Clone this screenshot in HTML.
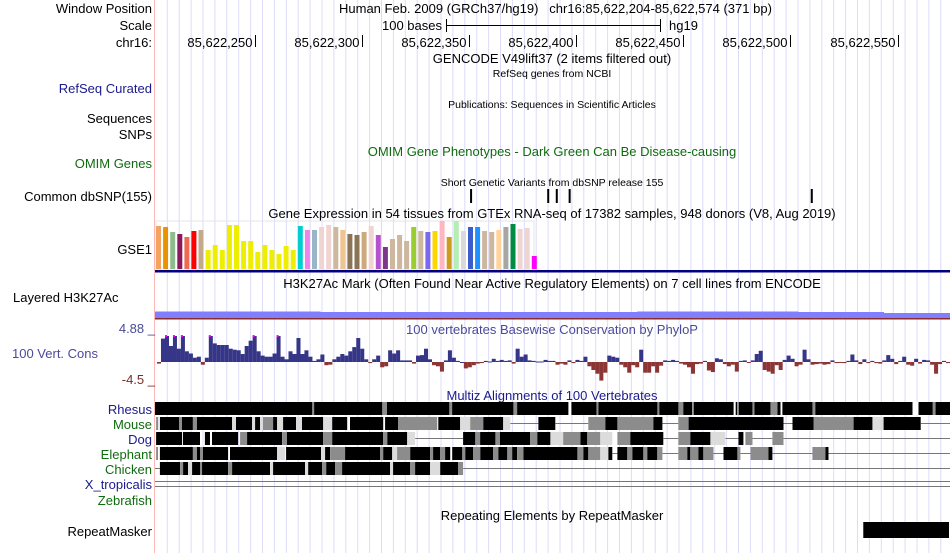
<!DOCTYPE html>
<html><head><meta charset="utf-8">
<style>
html,body{margin:0;padding:0;background:#fff;}
svg{display:block;font-family:"Liberation Sans",Arial,sans-serif;}
</style></head>
<body>
<svg id="chart" width="950" height="553" viewBox="0 0 950 553" xmlns="http://www.w3.org/2000/svg">
  <g id="grid"></g>
  <line x1="154.5" y1="0" x2="154.5" y2="553" stroke="#ffb8b8" stroke-width="1"/>

  <g font-size="13" fill="#000">
    <text x="152" y="13" text-anchor="end">Window Position</text>
    <text x="339" y="13">Human Feb. 2009 (GRCh37/hg19)&#160;&#160;&#160;chr16:85,622,204-85,622,574 (371 bp)</text>
    <text x="152" y="30" text-anchor="end">Scale</text>
    <text x="442" y="30" text-anchor="end">100 bases</text>
    <g stroke="#000" stroke-width="1">
      <line x1="446" y1="25.5" x2="660" y2="25.5"/>
      <line x1="446.5" y1="19" x2="446.5" y2="32"/>
      <line x1="660.5" y1="19" x2="660.5" y2="32"/>
    </g>
    <text x="669" y="30">hg19</text>
    <text x="152" y="47" text-anchor="end">chr16:</text>
    <g id="ticks"></g>
    <text x="552" y="63" text-anchor="middle">GENCODE V49lift37 (2 items filtered out)</text>
    <text x="552" y="77" text-anchor="middle" font-size="10.5">RefSeq genes from NCBI</text>
    <text x="152" y="93" text-anchor="end" fill="#1a1a8c">RefSeq Curated</text>
    <text x="552" y="108" text-anchor="middle" font-size="10.5">Publications: Sequences in Scientific Articles</text>
    <text x="152" y="123" text-anchor="end">Sequences</text>
    <text x="152" y="139" text-anchor="end">SNPs</text>
    <text x="552" y="156" text-anchor="middle" fill="#0f6b0f">OMIM Gene Phenotypes - Dark Green Can Be Disease-causing</text>
    <text x="152" y="168" text-anchor="end" fill="#0f6b0f">OMIM Genes</text>
    <text x="552" y="186" text-anchor="middle" font-size="10.5">Short Genetic Variants from dbSNP release 155</text>
    <text x="152" y="201" text-anchor="end">Common dbSNP(155)</text>
    <g id="snps"></g>
    <text x="552" y="218" text-anchor="middle">Gene Expression in 54 tissues from GTEx RNA-seq of 17382 samples, 948 donors (V8, Aug 2019)</text>
    <text x="152" y="254" text-anchor="end">GSE1</text>
  </g>

  <rect x="156" y="221" width="378" height="49" fill="none" stroke="#e4e4e4"/>
  <g id="gtex"></g>
  <rect x="155" y="270" width="795" height="2.5" fill="#000080"/>

  <g font-size="13">
    <text x="552" y="288" text-anchor="middle">H3K27Ac Mark (Often Found Near Active Regulatory Elements) on 7 cell lines from ENCODE</text>
    <text x="13" y="302">Layered H3K27Ac</text>
  </g>
  <g id="h3k"></g>
  <rect x="155" y="318" width="795" height="1.5" fill="#8b2a2a"/>

  <g font-size="13">
    <text x="155" y="333" text-anchor="end" fill="#4a4a9a">4.88 _</text>
    <text x="12" y="358" fill="#4a4a9a">100 Vert. Cons</text>
    <text x="155" y="384" text-anchor="end" fill="#7a2a2a">-4.5 _</text>
    <text x="552" y="334" text-anchor="middle" fill="#4a4a9a">100 vertebrates Basewise Conservation by PhyloP</text>
  </g>
  <g id="cons"></g>

  <g font-size="13">
    <text x="552" y="400" text-anchor="middle" fill="#1a1a8c">Multiz Alignments of 100 Vertebrates</text>
    <text x="152" y="414" text-anchor="end" fill="#1a1a8c">Rhesus</text>
    <text x="152" y="429" text-anchor="end" fill="#0f6b0f">Mouse</text>
    <text x="152" y="444" text-anchor="end" fill="#1a1a8c">Dog</text>
    <text x="152" y="459" text-anchor="end" fill="#0f6b0f">Elephant</text>
    <text x="152" y="474" text-anchor="end" fill="#0f6b0f">Chicken</text>
    <text x="152" y="489" text-anchor="end" fill="#1a1a8c">X_tropicalis</text>
    <text x="152" y="505" text-anchor="end" fill="#0f6b0f">Zebrafish</text>
  </g>
  <g id="multiz"></g>
  <line x1="155" y1="481.5" x2="950" y2="481.5" stroke="#777"/>
  <line x1="155" y1="486.5" x2="950" y2="486.5" stroke="#777"/>

  <g font-size="13">
    <text x="552" y="520" text-anchor="middle">Repeating Elements by RepeatMasker</text>
    <text x="152" y="536" text-anchor="end">RepeatMasker</text>
  </g>
  <g id="rmsk"></g>
</svg>
<script>
// ---- data ----
const winStart = 85622204;     // first base of window
const winEnd = 85622574;
const tickPositions = [85622250, 85622300, 85622350, 85622400, 85622450, 85622500, 85622550];
const tickLabels = ["85,622,250","85,622,300","85,622,350","85,622,400","85,622,450","85,622,500","85,622,550"];
const snpPositions = [85622351, 85622387, 85622391, 85622397, 85622510];
const gtexValues = [43,42,37,35,32,38,39,19,24,19,44,44,28,28,17,24,19,15,23,19,43,39,39,42,44,42,39,35,34,37,43,34,22,30,34,28,42,38,37,38,48,32,48,38,42,42,38,37,39,42,45,40,41,13];
const gtexColors = ["#f4a460","#e69500","#8fbc8f","#8b1a5a","#ee6a50","#ff0000","#c4a98c","#eeee00","#eeee00","#eeee00","#eeee00","#eeee00","#eeee00","#eeee00","#eeee00","#eeee00","#eeee00","#eeee00","#eeee00","#eeee00","#00ced1","#ee82ee","#9ab4c8","#eed5d2","#eed5d2","#cdb79e","#eec591","#8b7355","#8b7355","#cdaa7d","#eed5d2","#b452cd","#7a378b","#cdb79e","#cdb79e","#cdb79e","#9acd32","#cdb79e","#7b68ee","#ffd700","#ffb6c1","#cd9b1d","#b4eeb4","#d9d9d9","#3a5fcd","#1e90ff","#cdb79e","#cdb79e","#ffd39b","#a6a6a6","#008b45","#eed5d2","#eed5d2","#ff00ff"];
const h3kStarts = [0, 3, 77, 225, 300, 340];      // base offsets
const h3kLevels = [6.5, 6.5, 6.0, 6.5, 6.0, 5.0];
const consValues = [-0.3,4.4,4.88,3.0,4.88,2.5,4.88,2.0,1.6,0.8,1.0,-0.5,0.8,4.88,3.5,3.2,3.2,3.2,2.5,2.3,2.2,1.5,3.0,4.0,4.88,2.0,1.2,1.0,1.0,1.6,4.88,1.0,0.5,2.0,1.5,4.5,1.5,2.2,1.0,0.2,0.5,1.4,-0.6,-0.5,0.5,1.0,1.5,1.2,2.0,2.8,4.5,2.5,0.5,-0.2,0.5,1.2,-1.0,-0.8,2.2,1.6,2.2,0.3,0.3,0.3,-0.3,1.2,1.3,2.5,0.5,-0.6,-0.8,-1.8,0.3,2.2,0.8,0.2,0,-1.2,-1.0,-0.6,-0.3,-0.2,0.2,0.1,0.6,0.2,0.4,0.2,0.3,-0.3,2.5,1.0,1.4,0.3,0.2,0.1,0.1,0.4,0.2,0.2,-0.5,-0.3,-0.5,0.3,-0.2,0.4,0.2,1.0,-0.8,-1.5,-2.2,-3.5,-2.0,1.2,1.0,0.8,-0.5,-1.0,-2.0,-0.6,-1.0,2.3,-2.0,-2.0,-0.8,-2.0,-0.7,0.3,0.2,0.4,0.2,-0.3,-0.5,-1.0,-2.2,-0.4,-0.3,0.2,-1.6,-1.9,0.7,0.5,-0.4,-0.8,-0.5,-1.8,0.2,0.3,-0.1,0.3,1.5,2.1,-1.5,-1.8,-2.2,-0.6,-1.5,0.4,1.2,0.6,-0.8,-0.5,2.3,0.5,-0.5,-0.4,-0.3,-0.5,-0.4,0.3,-0.2,-0.1,-0.2,0.2,1.4,0.3,-0.4,0.5,-0.2,0.2,-0.2,-0.3,0.3,1.3,0.6,-0.4,0.2,1.0,-0.5,-0.7,0.6,-0.3,0.4,0.3,-0.5,-2.2,-0.4,0.2,-0.2];
// multiz segments: [startBase, endBase, tone]  tone: k=aligned, g=medium, l=light, w=gap, n=no alignment line
const rhesusSegs = [[0,371,"k"],[73.3,74.3,"g"],[106,108.3,"g"],[137.3,138.7,"g"],[167.2,169,"g"],[192.9,194.3,"w"],[206,207,"g"],[234.4,235.4,"g"],[244.2,246.6,"g"],[250.8,251.3,"w"],[270,271,"w"],[271.8,272.3,"w"],[278.8,279.8,"g"],[287.2,290.5,"g"],[291.9,292.8,"w"],[306.8,308.2,"g"],[353.5,356.3,"w"],[362.9,364.3,"g"]];
const mouseSegs = [[0.5,1.5,"g"],[2.3,11.2,"k"],[11.2,12.6,"g"],[12.6,17.7,"k"],[17.7,19.6,"g"],[19.6,36,"k"],[36,37.8,"l"],[37.8,45.3,"k"],[45.3,46.7,"l"],[46.7,49,"k"],[49,50.4,"l"],[50.4,55.1,"g"],[55.1,57,"k"],[57,59.8,"l"],[59.8,65.8,"k"],[65.8,68.6,"l"],[68.6,78.5,"k"],[78.5,82.7,"l"],[82.7,89.7,"k"],[91,106.5,"k"],[107.4,113.5,"k"],[113.5,131.7,"g"],[132.2,142.4,"k"],[142.4,147.1,"l"],[147.1,153.2,"g"],[153.2,162.5,"k"],[162.5,165.8,"l"],[165.8,178.9,"n"],[178.9,186.8,"k"],[186.8,202.2,"n"],[202.2,210.2,"g"],[210.2,215.8,"k"],[215.8,232.6,"g"],[232.6,236.8,"k"],[236.8,244.2,"n"],[244.2,249,"g"],[249,293.3,"k"],[293.3,297.5,"n"],[297.5,307.3,"k"],[307.3,326,"g"],[326,334.8,"k"],[334.8,340,"l"],[340,357.3,"k"],[357.3,371,"n"]];
const dogSegs = [[0.5,12.6,"k"],[13,21,"k"],[23.3,25.7,"k"],[26.6,38.8,"k"],[39.7,43,"g"],[43,59.3,"k"],[59.3,61.6,"g"],[61.6,78.5,"k"],[78.5,82.7,"g"],[82.7,106.5,"k"],[106.5,108.4,"g"],[108.4,117.7,"k"],[117.7,121.4,"l"],[121.4,143.8,"n"],[143.8,175.1,"k"],[149.4,151.8,"g"],[158.8,161,"g"],[175.1,178.4,"g"],[178.4,184.5,"k"],[184.5,190.5,"l"],[190.5,198.5,"g"],[198.5,201.7,"k"],[201.7,207.8,"g"],[207.8,213.4,"l"],[215.8,221.8,"g"],[221.8,237.2,"k"],[237.2,244.2,"n"],[244.2,249.8,"g"],[249.8,259.2,"k"],[259.2,266.2,"l"],[266.2,272.3,"n"],[272.3,274.6,"k"],[275.5,278.8,"g"],[278.8,288.1,"n"],[288.1,293.3,"g"],[293.3,371,"n"]];
const elephantSegs = [[0.5,1.4,"g"],[2.3,17.7,"k"],[17.7,19.6,"g"],[19.6,21,"k"],[21,22.4,"g"],[22.4,34.1,"k"],[35,57,"k"],[57,60.7,"l"],[61.2,77.5,"k"],[77.5,79.4,"l"],[79.4,81.7,"k"],[81.7,88.7,"g"],[88.7,105,"k"],[105,106.5,"g"],[106.5,110.7,"k"],[110.7,113,"l"],[113,119.1,"g"],[119.1,128.4,"k"],[128.4,129.8,"g"],[129.8,133.1,"k"],[133.1,135.4,"g"],[135.4,137.8,"k"],[138.7,143.4,"k"],[143.4,144.8,"g"],[144.8,148.5,"k"],[148.5,151.8,"g"],[151.8,157.8,"k"],[157.8,160.2,"g"],[160.2,164.4,"k"],[164.4,166.7,"g"],[166.7,169,"k"],[169,171.9,"g"],[171.9,197.1,"k"],[197.1,199.9,"g"],[199.9,202.2,"k"],[202.2,207.8,"g"],[207.8,211.6,"l"],[211.6,213.4,"k"],[213.4,215.8,"n"],[215.8,220.4,"k"],[220.4,222.8,"g"],[222.8,227.9,"k"],[227.9,229.8,"g"],[229.8,234.4,"k"],[234.4,236.8,"g"],[236.8,244.2,"n"],[244.2,248.4,"g"],[248.4,249.8,"k"],[249.8,253.6,"g"],[253.6,255.9,"k"],[255.9,260.6,"g"],[260.6,265.3,"n"],[265.3,271.8,"k"],[271.8,273.2,"g"],[273.2,277.9,"n"],[277.9,286.3,"g"],[286.3,288.1,"k"],[288.1,306.8,"n"],[306.8,312.9,"g"],[312.9,314.3,"k"],[314.3,371,"n"]];
const chickenSegs = [[0,2.3,"n"],[2.3,11.7,"k"],[11.7,13.1,"g"],[13.1,15.4,"k"],[15.4,17.3,"l"],[17.3,34.1,"k"],[21,22,"g"],[34.1,36,"g"],[36,53.7,"k"],[53.7,55.1,"l"],[55.1,70,"k"],[70,71.5,"l"],[71.5,78,"k"],[78,79.9,"g"],[79.9,84.1,"k"],[84.1,87.3,"g"],[87.3,109.7,"k"],[109.7,111.1,"l"],[111.1,119.1,"k"],[119.1,121.4,"g"],[121.4,128.4,"k"],[128.4,133.1,"l"],[133.1,141.5,"k"],[141.5,143.8,"g"],[143.8,371,"n"]];
const repeatStarts = [331];
const repeatEnds = [371];

// ---- scales ----
const X0 = 155, X1 = 950;
const pxPerBase = (X1 - X0) / (winEnd - winStart + 1);
function xBase(pos) { return X0 + (pos - winStart + 0.5) * pxPerBase; }
function xOff(off) { return X0 + off * pxPerBase; }
const consZero = 362, consPx = 26 / 4.88;
function yCons(v) { return consZero - Math.max(-4.5, Math.min(4.88, v)) * consPx; }
const gtexBase = 269, gtexStep = 7.09, gtexX = 156;
function xGtex(i) { return gtexX + i * gtexStep; }
function yGtex(v) { return gtexBase - v; }

const NS = "http://www.w3.org/2000/svg";
function mk(tag, attrs, parent) {
  const e = document.createElementNS(NS, tag);
  for (const k in attrs) e.setAttribute(k, attrs[k]);
  parent.appendChild(e);
  return e;
}

// grid
const grid = document.getElementById('grid');
for (let x = 167.3; x < 950; x += 11.9) {
  const l = mk('line', {x1: x.toFixed(1), y1: 0, x2: x.toFixed(1), y2: 553, stroke: '#dcdcf8', 'stroke-width': 1}, grid);
  
  
}

// ticks
const ticks = document.getElementById('ticks');
tickPositions.forEach((p, i) => {
  const x = Math.round(xBase(p)) + 0.5;
  const l = mk('line', {x1: x, y1: 35, x2: x, y2: 47, stroke: '#000'}, ticks);
  
  
  const t = mk('text', {x: x - 3, y: 47, 'text-anchor': 'end'}, ticks);
  t.textContent = tickLabels[i];
  
  
});

// snps
const snps = document.getElementById('snps');
snpPositions.forEach(p => {
  const r = mk('rect', {x: xBase(p) - 1, y: 189, width: 2, height: 14, fill: '#000'}, snps);
  
  
});

// gtex
const gtex = document.getElementById('gtex');
gtexValues.forEach((v, i) => {
  const r = mk('rect', {x: xGtex(i).toFixed(1), y: yGtex(v), width: 5, height: v, fill: gtexColors[i]}, gtex);
  
  
});

// h3k27ac
const h3k = document.getElementById('h3k');
h3kStarts.forEach((s, i) => {
  const e = i + 1 < h3kStarts.length ? h3kStarts[i + 1] : (winEnd - winStart + 1);
  const h = h3kLevels[i];
  const r = mk('rect', {x: xOff(s), y: 318 - h, width: xOff(e) - xOff(s) + 0.5, height: h, fill: '#8080ff'}, h3k);
  
  
});

// conservation
const cons = document.getElementById('cons');
const binW = (X1 - X0 - 2) / consValues.length;
consValues.forEach((v, i) => {
  const x = X0 + 2 + i * binW;
  const y = yCons(v);
  const top = Math.min(y, consZero), h = Math.max(1, Math.abs(y - consZero));
  const r = mk('rect', {x: x.toFixed(2), y: top.toFixed(1), width: (binW + 0.05).toFixed(2), height: h.toFixed(1), fill: v >= 0 ? '#363688' : '#8b3535'}, cons);
  
  
  if (v >= 4.88) {
    const m = mk('rect', {x: x.toFixed(2), y: top - 1, width: 2, height: 2, fill: '#ff00ff'}, cons);
    
    
  }
});

// multiz
const multiz = document.getElementById('multiz');
const toneColor = {k: '#000', g: '#8c8c8c', l: '#dcdcdc', w: '#fff'};
function drawRow(segs, y, name) {
  const g = mk('g', {}, multiz);
  
  
  segs.forEach(s => {
    const x1 = xOff(s[0]), x2 = xOff(s[1]);
    if (s[2] === 'n') {
      const l = mk('line', {x1: x1, y1: y + 6.5, x2: x2, y2: y + 6.5, stroke: '#777'}, g);
      
      
    } else {
      const r = mk('rect', {x: x1.toFixed(1), y: y, width: (x2 - x1).toFixed(1), height: 13, fill: toneColor[s[2]]}, g);
      
      
    }
  });
}
drawRow(rhesusSegs, 402, 'rhesus');
drawRow(mouseSegs, 417, 'mouse');
drawRow(dogSegs, 432, 'dog');
drawRow(elephantSegs, 447, 'elephant');
drawRow(chickenSegs, 462, 'chicken');

// repeatmasker
const rmsk = document.getElementById('rmsk');
repeatStarts.forEach((s, i) => {
  const r = mk('rect', {x: xOff(s) - 1, y: 522, width: xOff(repeatEnds[i]) - xOff(s), height: 16, fill: '#000'}, rmsk);
  
  
});
</script>
</body></html>
